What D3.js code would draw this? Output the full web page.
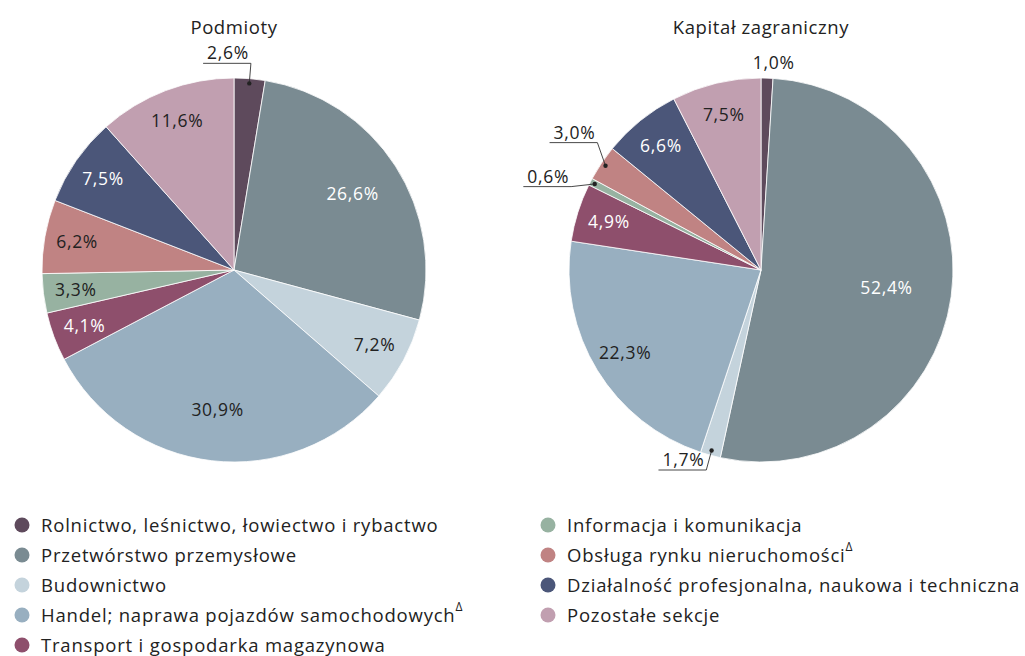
<!DOCTYPE html>
<html><head><meta charset="utf-8">
<script src="https://cdn.jsdelivr.net/npm/d3@7"></script>
<style>
body{margin:0;background:#fff;}
svg{display:block;font-family:"Open Sans",sans-serif;}
</style></head>
<body>
<svg id="chart" width="1025" height="656"></svg>
<script>
const categories = [
  "Rolnictwo, leśnictwo, łowiectwo i rybactwo",
  "Przetwórstwo przemysłowe",
  "Budownictwo",
  "Handel; naprawa pojazdów samochodowych",
  "Transport i gospodarka magazynowa",
  "Informacja i komunikacja",
  "Obsługa rynku nieruchomości",
  "Działalność profesjonalna, naukowa i techniczna",
  "Pozostałe sekcje"
];
const superscripts = ["", "", "", "Δ", "", "", "Δ", "", ""];
const colors = ["#5e4a5c","#7a8b92","#c4d3dc","#98afc0","#8e4f6c","#97b2a1","#c08383","#4b5679","#c19fb0"];
const labelColors = ["#222","#fff","#222","#222","#fff","#222","#222","#fff","#222"];
const podmioty = [2.6, 26.6, 7.2, 30.9, 4.1, 3.3, 6.2, 7.5, 11.6];
const kapital = [1.0, 52.4, 1.7, 22.3, 4.9, 0.6, 3.0, 6.6, 7.5];
const titles = ["Podmioty", "Kapitał zagraniczny"];

const svg = d3.select("#chart");
const R = 192;
const centers = [[234, 270], [761, 270]];
const fmt = v => d3.format(".1f")(v).replace(".", ",") + "%";
const LFS = 17.5, LLS = 0.7;

const pie = d3.pie().sort(null).value(d => d.v);
const arc = d3.arc().innerRadius(0).outerRadius(R);

[podmioty, kapital].forEach((vals, pi) => {
  const [cx, cy] = centers[pi];
  const g = svg.append("g").attr("transform", `translate(${cx},${cy})`);
  const data = pie(vals.map((v, i) => ({v, i})));

  svg.append("text").attr("x", cx).attr("y", 34).attr("text-anchor", "middle")
    .attr("font-size", 18.5).attr("letter-spacing", 0.6).attr("fill", "#222").text(titles[pi]);

  g.selectAll("path.slice").data(data).join("path")
    .attr("class", "slice")
    .attr("d", arc)
    .attr("fill", d => colors[d.data.i])
    .attr("stroke", "#fff").attr("stroke-width", 0.8);

  const outer = [];
  data.forEach(d => {
    const mid = (d.startAngle + d.endAngle) / 2;
    const pt = r => [Math.sin(mid) * r, -Math.cos(mid) * r];
    const txt = fmt(d.data.v);
    if (d.data.v > 3.05) {
      const lr = d.data.v > 40 ? R * 0.66 : d.data.v > 25 ? R * 0.735 : R * 0.83;
      const [x, y] = pt(lr);
      g.append("text").attr("x", x).attr("y", y).attr("dy", "0.35em")
        .attr("text-anchor", "middle").attr("font-size", LFS).attr("letter-spacing", LLS)
        .attr("fill", labelColors[d.data.i]).text(txt);
    } else if (Math.abs(mid) < 0.06) {
      const [x, y] = pt(R * 1.1);
      g.append("text").attr("x", x + 6).attr("y", y + 10)
        .attr("text-anchor", "middle").attr("font-size", LFS).attr("letter-spacing", LLS)
        .attr("fill", "#222").text(txt);
    } else {
      const [dx, dy] = pt(R * 0.975);
      const [ex, ey] = pt(R * 1.08);
      outer.push({txt, dx, dy, ex, ey});
    }
  });

  // spread elbows that are too close vertically
  outer.sort((a, b) => a.ey - b.ey);
  const gap = 44;
  for (let k = 1; k < outer.length; k++) {
    const a = outer[k - 1], b = outer[k];
    const diff = b.ey - a.ey;
    if (diff < gap) {
      const push = (gap - diff) / 2;
      a.ey -= push; b.ey += push;
    }
  }
  outer.forEach(o => {
    const rr = R * 1.08;
    const sx = Math.sign(o.ex) || 1;
    o.ex = sx * Math.sqrt(Math.max(0, rr * rr - o.ey * o.ey));
    const t = g.append("text").attr("x", o.ex - 2).attr("y", o.ey - 4)
      .attr("text-anchor", "end").attr("font-size", LFS).attr("letter-spacing", LLS)
      .attr("fill", "#222").text(o.txt);
    const w = t.node().getComputedTextLength();
    g.append("polyline")
      .attr("points", `${o.dx},${o.dy} ${o.ex},${o.ey} ${o.ex - w - 6},${o.ey}`)
      .attr("fill", "none").attr("stroke", "#333").attr("stroke-width", 0.9);
    g.append("circle").attr("cx", o.dx).attr("cy", o.dy).attr("r", 2.2).attr("fill", "#222");
  });
});

// legend
const legendCols = [[0,1,2,3,4],[5,6,7,8]];
const colX = [22, 548];
const rowY = d3.scalePoint().domain(d3.range(5)).range([525, 645]);
legendCols.forEach((col, ci) => {
  col.forEach((idx, ri) => {
    const y = rowY(ri);
    svg.append("circle").attr("cx", colX[ci]).attr("cy", y).attr("r", 7.5).attr("fill", colors[idx]);
    const t = svg.append("text").attr("x", colX[ci] + 19).attr("y", y).attr("dy", "0.36em")
      .attr("font-size", 18.5).attr("fill", "#222").attr("letter-spacing", 0.8);
    t.append("tspan").text(categories[idx]);
    if (superscripts[idx]) {
      t.append("tspan").attr("font-size", 12).attr("dy", "-0.9em").attr("dx", 0).text(superscripts[idx]);
    }
  });
});
</script>
</body></html>
